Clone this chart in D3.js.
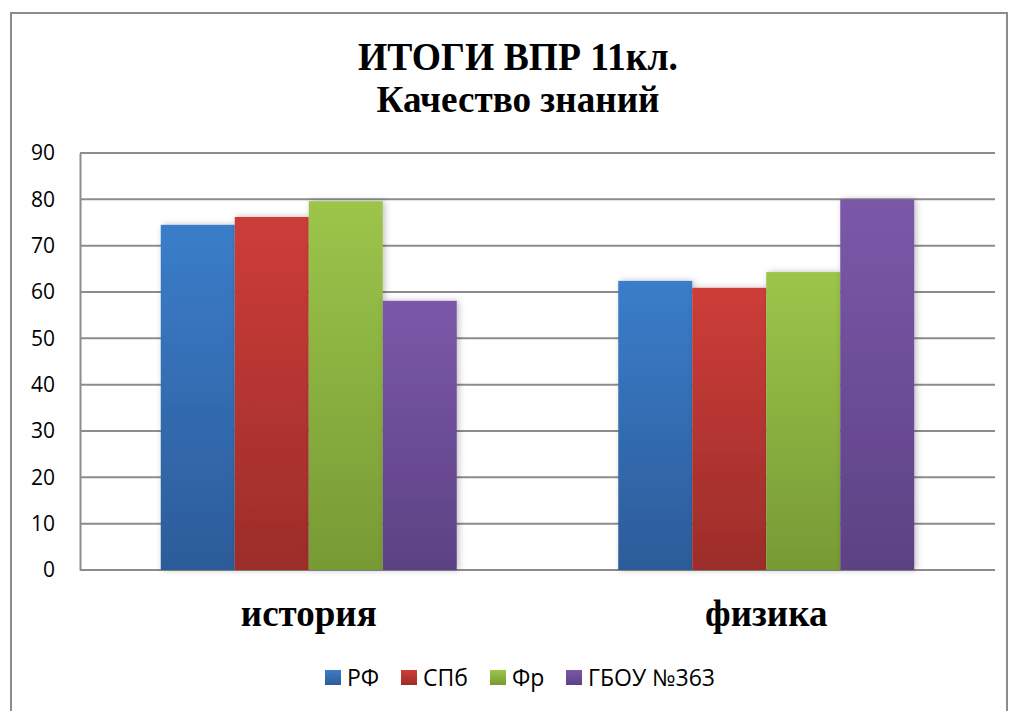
<!DOCTYPE html>
<html>
<head>
<meta charset="utf-8">
<title>ИТОГИ ВПР</title>
<script src="https://d3js.org/d3.v7.min.js"></script>
<style>
    body { margin: 0; background: #fff; }
    .axis text { font-family: "Open Sans", sans-serif; font-size: 21px; fill: #000; }
    .grid line { stroke: #8c8c8c; stroke-width: 2; }
</style>
</head>
<body>
<script>
    var categories = ["история", "физика"];
    var series = ["РФ", "СПб", "Фр", "ГБОУ №363"];
    var values = {
        "РФ":        [74.5, 62.4],
        "СПб":       [76.2, 60.9],
        "Фр":        [79.6, 64.3],
        "ГБОУ №363": [58.1, 80.0]
    };
    var yTicks = [0, 10, 20, 30, 40, 50, 60, 70, 80, 90];
    var topColors = ["#3b7dca", "#cd3d38", "#9cc54a", "#7b58a9"];
    var bottomColors = ["#2c5c99", "#9c2d2a", "#779a35", "#5c4284"];

    var w = 1009, h = 711;
    var plotL = 80, plotR = 995, plotT = 153, plotB = 570;

    var svg = d3.select("body").append("svg")
        .attr("width", w).attr("height", h);

    var defs = svg.append("defs");
    series.forEach(function(s, i) {
        var g = defs.append("linearGradient").attr("id", "g" + i)
            .attr("x1", 0).attr("y1", 0).attr("x2", 0).attr("y2", 1);
        g.append("stop").attr("offset", "0%").attr("stop-color", topColors[i]);
        g.append("stop").attr("offset", "100%").attr("stop-color", bottomColors[i]);
    });
    var f = defs.append("filter").attr("id", "shadow")
        .attr("x", "-20%").attr("y", "-10%").attr("width", "140%").attr("height", "120%");
    f.append("feDropShadow").attr("dx", 2).attr("dy", 0).attr("stdDeviation", 3)
        .attr("flood-color", "#000").attr("flood-opacity", 0.25);

    // рамка
    svg.append("rect")
        .attr("x", 11).attr("y", 13).attr("width", 996).attr("height", 720)
        .attr("fill", "none").attr("stroke", "#8c8c8c").attr("stroke-width", 2);

    // заголовок
    svg.append("text").attr("x", 518).attr("y", 70)
        .attr("text-anchor", "middle")
        .attr("textLength", 320).attr("lengthAdjust", "spacingAndGlyphs")
        .style("font-family", "'Liberation Serif', serif").style("font-weight", "bold")
        .style("font-size", "39px")
        .text("ИТОГИ ВПР 11кл.");
    svg.append("text").attr("x", 518).attr("y", 112)
        .attr("text-anchor", "middle")
        .attr("textLength", 283).attr("lengthAdjust", "spacingAndGlyphs")
        .style("font-family", "'Liberation Serif', serif").style("font-weight", "bold")
        .style("font-size", "37px")
        .text("Качество знаний");

    var x0 = d3.scaleBand().domain(categories).range([plotL, plotR]).paddingInner(0.353).paddingOuter(0.1765);
    var x1 = d3.scaleBand().domain(series).range([0, x0.bandwidth()]);
    var y = d3.scaleLinear().domain([0, 90]).range([plotB, plotT]);

    // сетка
    svg.append("g").attr("class", "grid")
        .selectAll("line").data(yTicks).enter().append("line")
        .attr("x1", plotL).attr("x2", plotR)
        .attr("y1", function(d) { return y(d); })
        .attr("y2", function(d) { return y(d); });

    // ось Y
    var yAxis = d3.axisLeft(y).tickValues(yTicks).tickSize(0).tickPadding(25);
    var ya = svg.append("g").attr("class", "axis")
        .attr("transform", "translate(" + plotL + ",0)")
        .call(yAxis);
    ya.select(".domain").attr("stroke", "#8c8c8c").attr("stroke-width", 2);

    // столбцы
    var groups = svg.append("g").selectAll("g").data(categories).enter().append("g")
        .attr("transform", function(d) { return "translate(" + x0(d) + ",0)"; });
    groups.selectAll("rect")
        .data(function(c, ci) { return series.map(function(s, si) { return {s: s, i: si, v: values[s][ci]}; }); })
        .enter().append("rect")
        .attr("x", function(d) { return x1(d.s); })
        .attr("width", x1.bandwidth())
        .attr("y", function(d) { return y(d.v); })
        .attr("height", function(d) { return plotB - y(d.v); })
        .attr("fill", function(d) { return "url(#g" + d.i + ")"; })
        .attr("filter", "url(#shadow)");

    // подписи категорий
    svg.append("g").selectAll("text").data(categories).enter().append("text")
        .attr("x", function(d) { return x0(d) + x0.bandwidth() / 2; })
        .attr("y", 626)
        .attr("text-anchor", "middle")
        .style("font-family", "'Liberation Serif', serif").style("font-weight", "bold")
        .style("font-size", "37px")
        .text(function(d) { return d; });

    // легенда
    var legendX = [325, 401, 490, 566];
    var lg = svg.append("g").selectAll("g").data(series).enter().append("g")
        .attr("transform", function(d, i) { return "translate(" + legendX[i] + ",670)"; });
    lg.append("rect").attr("width", 16).attr("height", 15)
        .attr("fill", function(d, i) { return "url(#g" + i + ")"; });
    lg.append("text").attr("x", 22).attr("y", 8).attr("dy", "0.35em")
        .style("font-family", "'Open Sans', sans-serif").style("font-size", "23px")
        .text(function(d) { return d; });
</script>
</body>
</html>
